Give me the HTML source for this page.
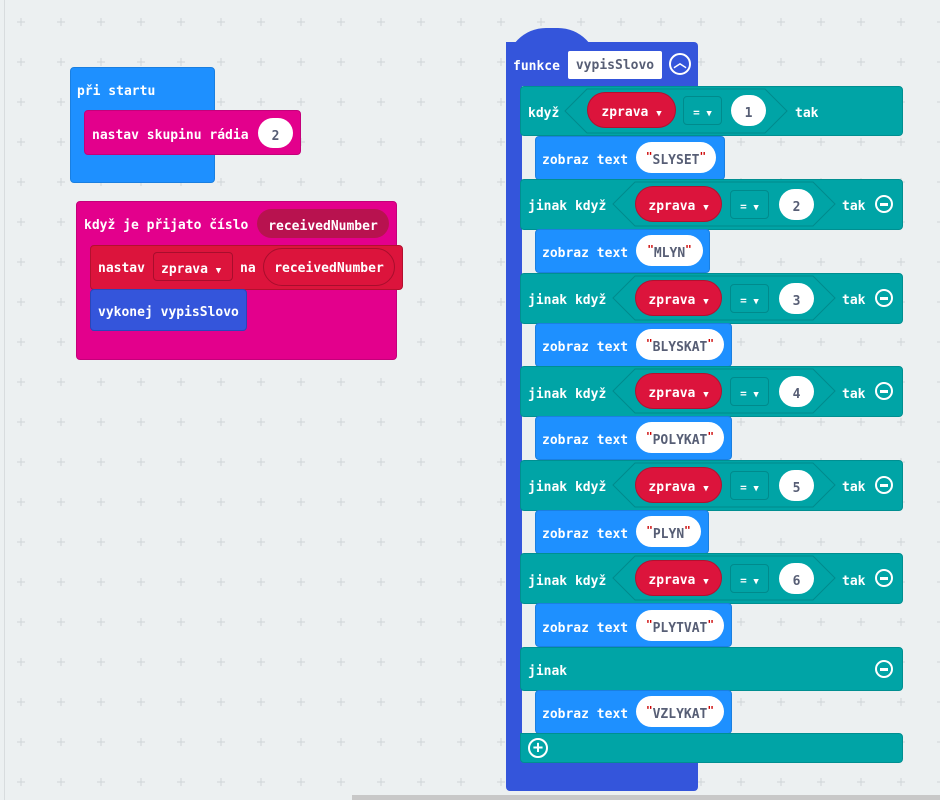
<!DOCTYPE html>
<html><head><meta charset="utf-8">
<style>
body{margin:0;width:940px;height:800px;overflow:hidden;background:#ecf0f1;position:relative;font-family:"DejaVu Sans Mono","Liberation Mono",monospace;font-weight:bold;font-size:13px;color:#fff}
.a{position:absolute;box-sizing:border-box}
.t{position:absolute;white-space:nowrap;line-height:16px;margin-top:3px}
.teal{background:#00a4a6;border:1px solid #008f91;border-radius:4px}
.blue{background:#1e90ff;border:1px solid #1a7fe0;border-radius:4px}
.pill{background:#fff;border-radius:16px;color:#575e75;text-align:center;line-height:31px;padding-top:3px}
.zp{background:#dc143c;border:1px solid #b3102f;border-radius:18px;text-align:center;line-height:34px;padding-top:3px}
.eq{border:1px solid #008a8c;border-radius:4px;text-align:center;line-height:27px;font-size:11px;padding-top:2px}
.q{color:#c00;font-size:11px;position:relative;top:-4px}
.ar{font-size:9px}
.circ{position:absolute;width:18px;height:18px;border:2px solid #fff;border-radius:50%;box-sizing:border-box}
.circ:after{content:"";position:absolute;left:3px;top:6px;width:8px;height:2.5px;background:#fff}
</style></head><body>
<svg class="a" style="left:0;top:0" width="940" height="800">
<defs><pattern id="g" x="1" y="2" width="40" height="40" patternUnits="userSpaceOnUse">
<path d="M16 20h8M20 16v8" stroke="#cfd5d8" stroke-width="1"/></pattern></defs>
<rect width="940" height="800" fill="url(#g)"/>
<line x1="4.5" y1="0" x2="4.5" y2="800" stroke="#d8dcde"/>
<rect x="352" y="795" width="588" height="5" fill="#c8c8c8"/>
</svg>

<!-- při startu -->
<div class="a" style="left:70px;top:67px;width:145px;height:116px;background:#1e90ff;border:1px solid #1a7fe0;border-radius:4px"></div>
<div class="t" style="left:77px;top:81px">při startu</div>
<div class="a" style="left:84px;top:110px;width:217px;height:45px;background:#e3008c;border:1px solid #c4007a;border-radius:4px"></div>
<div class="t" style="left:92px;top:125px">nastav skupinu rádia</div>
<div class="a pill" style="left:258px;top:118px;width:35px;height:30px">2</div>

<!-- když je přijato číslo -->
<div class="a" style="left:76px;top:201px;width:321px;height:159px;background:#e3008c;border:1px solid #c4007a;border-radius:4px"></div>
<div class="t" style="left:84px;top:215px">když je přijato číslo</div>
<div class="a" style="left:257px;top:209px;width:132px;height:29px;background:#b8124f;border-radius:15px;text-align:center;line-height:29px;padding-top:3px">receivedNumber</div>
<div class="a" style="left:90px;top:245px;width:313px;height:45px;background:#dc143c;border:1px solid #b3102f;border-radius:4px"></div>
<div class="t" style="left:98px;top:258px">nastav</div>
<div class="a" style="left:153px;top:252px;width:80px;height:29px;border:1px solid #a80e2d;border-radius:4px;line-height:29px;padding-left:7px;padding-top:2px">zprava <span class="ar">▼</span></div>
<div class="t" style="left:240px;top:258px">na</div>
<div class="a" style="left:263px;top:248px;width:132px;height:38px;border:1px solid #a80e2d;border-radius:19px;text-align:center;line-height:37px;padding-top:1px">receivedNumber</div>
<div class="a" style="left:90px;top:289px;width:157px;height:42px;background:#3455db;border:1px solid #2a46b8;border-radius:4px"></div>
<div class="t" style="left:98px;top:302px">vykonej vypisSlovo</div>

<!-- function -->
<div class="a" style="left:506px;top:28px;width:92px;height:40px;background:#3455db;border-radius:46px 46px 0 0"></div>
<div class="a" style="left:506px;top:42px;width:192px;height:44px;background:#3455db;border-radius:0 4px 0 0"></div>
<div class="a" style="left:506px;top:80px;width:16px;height:700px;background:#3455db"></div>
<div class="a" style="left:506px;top:760px;width:192px;height:31px;background:#3455db;border-radius:0 0 4px 4px"></div>
<div class="t" style="left:513px;top:56px">funkce</div>
<div class="a" style="left:568px;top:51px;width:94px;height:28px;background:#fff;border-radius:2px;color:#575e75;text-align:center;line-height:28px;padding-top:1px">vypisSlovo</div>
<div class="a" style="left:669px;top:53px;width:22px;height:22px;border:2px solid #fff;border-radius:50%;text-align:center;line-height:18px;font-size:13px">︿</div>

<!-- row 1 -->
<div class="a teal" style="left:520px;top:86px;width:383px;height:50px"></div>
<div class="t" style="left:528px;top:103px">když</div>
<div class="t" style="left:795px;top:103px">tak</div>
<div class="a blue" style="left:535px;top:136px;width:190px;height:44px"></div>
<div class="t" style="left:542px;top:150px">zobraz text</div>
<div class="a pill" style="left:636px;top:142px;width:80px;height:31px"><span class="q">"</span>SLYSET<span class="q">"</span></div>

<!-- row 2 -->
<div class="a teal" style="left:520px;top:179px;width:383px;height:51px"></div>
<div class="t" style="left:528px;top:196px">jinak když</div>
<div class="t" style="left:842px;top:196px">tak</div>
<div class="circ" style="left:875px;top:195px"></div>
<div class="a blue" style="left:535px;top:229px;width:175px;height:44px"></div>
<div class="t" style="left:542px;top:243px">zobraz text</div>
<div class="a pill" style="left:636px;top:235px;width:67px;height:31px"><span class="q">"</span>MLYN<span class="q">"</span></div>

<!-- row 3 -->
<div class="a teal" style="left:520px;top:273px;width:383px;height:51px"></div>
<div class="t" style="left:528px;top:290px">jinak když</div>
<div class="t" style="left:842px;top:290px">tak</div>
<div class="circ" style="left:875px;top:289px"></div>
<div class="a blue" style="left:535px;top:323px;width:197px;height:44px"></div>
<div class="t" style="left:542px;top:337px">zobraz text</div>
<div class="a pill" style="left:636px;top:329px;width:88px;height:31px"><span class="q">"</span>BLYSKAT<span class="q">"</span></div>

<!-- row 4 -->
<div class="a teal" style="left:520px;top:366px;width:383px;height:51px"></div>
<div class="t" style="left:528px;top:384px">jinak když</div>
<div class="t" style="left:842px;top:384px">tak</div>
<div class="circ" style="left:875px;top:382px"></div>
<div class="a blue" style="left:535px;top:416px;width:197px;height:44px"></div>
<div class="t" style="left:542px;top:430px">zobraz text</div>
<div class="a pill" style="left:636px;top:422px;width:88px;height:31px"><span class="q">"</span>POLYKAT<span class="q">"</span></div>

<!-- row 5 -->
<div class="a teal" style="left:520px;top:460px;width:383px;height:51px"></div>
<div class="t" style="left:528px;top:477px">jinak když</div>
<div class="t" style="left:842px;top:477px">tak</div>
<div class="circ" style="left:875px;top:476px"></div>
<div class="a blue" style="left:535px;top:510px;width:174px;height:44px"></div>
<div class="t" style="left:542px;top:524px">zobraz text</div>
<div class="a pill" style="left:636px;top:516px;width:65px;height:31px"><span class="q">"</span>PLYN<span class="q">"</span></div>

<!-- row 6 -->
<div class="a teal" style="left:520px;top:553px;width:383px;height:51px"></div>
<div class="t" style="left:528px;top:571px">jinak když</div>
<div class="t" style="left:842px;top:571px">tak</div>
<div class="circ" style="left:875px;top:569px"></div>
<div class="a blue" style="left:535px;top:603px;width:197px;height:44px"></div>
<div class="t" style="left:542px;top:618px">zobraz text</div>
<div class="a pill" style="left:636px;top:610px;width:88px;height:31px"><span class="q">"</span>PLYTVAT<span class="q">"</span></div>

<!-- jinak -->
<div class="a teal" style="left:520px;top:647px;width:383px;height:44px"></div>
<div class="t" style="left:528px;top:661px">jinak</div>
<div class="circ" style="left:875px;top:660px"></div>
<div class="a blue" style="left:535px;top:690px;width:197px;height:44px"></div>
<div class="t" style="left:542px;top:704px">zobraz text</div>
<div class="a pill" style="left:636px;top:696px;width:88px;height:31px"><span class="q">"</span>VZLYKAT<span class="q">"</span></div>
<div class="a teal" style="left:520px;top:733px;width:383px;height:30px;border-radius:0 4px 4px 4px"></div>
<div class="a" style="left:528px;top:738px;width:20px;height:20px;border:2px solid #fff;border-radius:50%;text-align:center;line-height:16px;font-size:17px">+</div>

<!-- hexagons (overlay) -->
<svg class="a" style="left:0;top:0" width="940" height="800">
<g fill="none" stroke="#008a8c" stroke-width="1">
<polygon points="565,111 587,89 765,89 787,111 765,133 587,133"/>
<polygon points="613,204 635,182 813,182 835,204 813,226 635,226"/>
<polygon points="613,298 635,276 813,276 835,298 813,320 635,320"/>
<polygon points="613,391 635,369 813,369 835,391 813,413 635,413"/>
<polygon points="613,485 635,463 813,463 835,485 813,507 635,507"/>
<polygon points="613,578 635,556 813,556 835,578 813,600 635,600"/>
</g>
</svg>

<!-- condition contents -->
<div class="a zp" style="left:587px;top:92px;width:89px;height:36px">zprava <span class="ar">▼</span></div>
<div class="a eq" style="left:683px;top:96px;width:39px;height:29px">= <span class="ar">▼</span></div>
<div class="a pill" style="left:731px;top:95px;width:35px;height:31px">1</div>

<div class="a zp" style="left:635px;top:186px;width:87px;height:36px">zprava <span class="ar">▼</span></div>
<div class="a eq" style="left:730px;top:190px;width:39px;height:29px">= <span class="ar">▼</span></div>
<div class="a pill" style="left:779px;top:189px;width:35px;height:31px">2</div>

<div class="a zp" style="left:635px;top:280px;width:87px;height:36px">zprava <span class="ar">▼</span></div>
<div class="a eq" style="left:730px;top:284px;width:39px;height:29px">= <span class="ar">▼</span></div>
<div class="a pill" style="left:779px;top:283px;width:35px;height:31px">3</div>

<div class="a zp" style="left:635px;top:373px;width:87px;height:36px">zprava <span class="ar">▼</span></div>
<div class="a eq" style="left:730px;top:377px;width:39px;height:29px">= <span class="ar">▼</span></div>
<div class="a pill" style="left:779px;top:376px;width:35px;height:31px">4</div>

<div class="a zp" style="left:635px;top:467px;width:87px;height:36px">zprava <span class="ar">▼</span></div>
<div class="a eq" style="left:730px;top:471px;width:39px;height:29px">= <span class="ar">▼</span></div>
<div class="a pill" style="left:779px;top:470px;width:35px;height:31px">5</div>

<div class="a zp" style="left:635px;top:560px;width:87px;height:36px">zprava <span class="ar">▼</span></div>
<div class="a eq" style="left:730px;top:564px;width:39px;height:29px">= <span class="ar">▼</span></div>
<div class="a pill" style="left:779px;top:563px;width:35px;height:31px">6</div>
</body></html>
